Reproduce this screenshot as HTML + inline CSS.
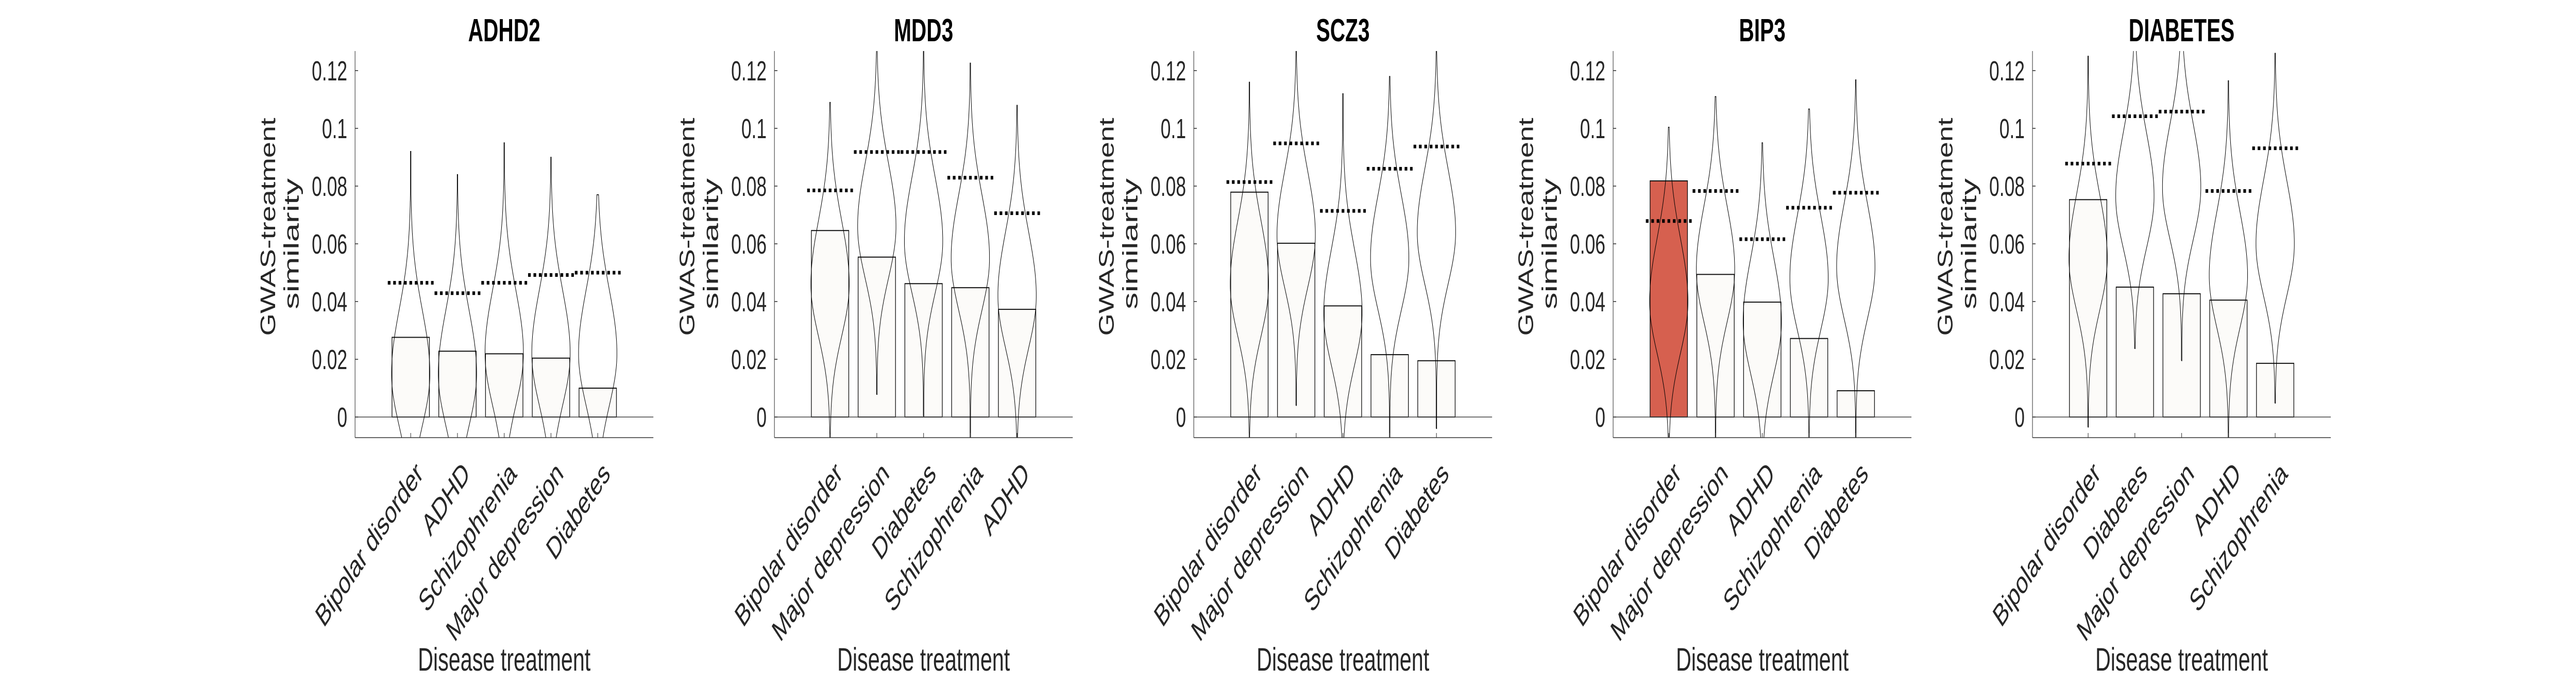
<!DOCTYPE html>
<html><head><meta charset="utf-8"><style>
html,body{margin:0;padding:0;background:#fff;width:100%;height:100%;overflow:hidden;}
svg{display:block;width:100vw;height:100vh;}
text{font-family:"Liberation Sans",Arial,sans-serif;fill:#262626;}
</style></head><body>
<svg id="chart" viewBox="0 0 7625 1325" preserveAspectRatio="none" xmlns="http://www.w3.org/2000/svg"></svg>
<script>
// ---- data ----
const panelTitles = ["ADHD2","MDD3","SCZ3","BIP3","DIABETES"];
const categoriesP1 = ["Bipolar disorder","ADHD","Schizophrenia","Major depression","Diabetes"];
const categoriesP2 = ["Bipolar disorder","Major depression","Diabetes","Schizophrenia","ADHD"];
const categoriesP3 = ["Bipolar disorder","Major depression","ADHD","Schizophrenia","Diabetes"];
const categoriesP4 = ["Bipolar disorder","Major depression","ADHD","Schizophrenia","Diabetes"];
const categoriesP5 = ["Bipolar disorder","Diabetes","Major depression","ADHD","Schizophrenia"];
const barValuesP1 = [0.0276,0.0228,0.0219,0.0204,0.0100];
const barValuesP2 = [0.0646,0.0554,0.0462,0.0448,0.0373];
const barValuesP3 = [0.0779,0.0602,0.0385,0.0216,0.0195];
const barValuesP4 = [0.0818,0.0494,0.0398,0.0272,0.0091];
const barValuesP5 = [0.0753,0.0450,0.0427,0.0405,0.0186];
const thresholdP1 = [0.0465,0.0429,0.0465,0.0492,0.0500];
const thresholdP2 = [0.0785,0.0918,0.0918,0.0829,0.0706];
const thresholdP3 = [0.0814,0.0948,0.0714,0.0860,0.0937];
const thresholdP4 = [0.0679,0.0783,0.0616,0.0725,0.0777];
const thresholdP5 = [0.0878,0.1042,0.1058,0.0783,0.0931];
const violinMaxP1 = [0.092,0.084,0.095,0.090,0.077];
const violinMaxP2 = [0.109,0.127,0.127,0.1226,0.108];
const violinMaxP3 = [0.116,0.127,0.112,0.118,0.127];
const violinMaxP4 = [0.1004,0.111,0.095,0.1067,0.1168];
const violinMaxP5 = [0.125,0.127,0.127,0.1165,0.126];
const violinMinP1 = [-0.02,-0.02,-0.02,-0.02,-0.02];
const violinMinP2 = [-0.02,0.0078,0.0003,-0.02,-0.02];
const violinMinP3 = [-0.02,0.004,-0.02,-0.02,-0.004];
const violinMinP4 = [-0.02,-0.02,-0.02,-0.02,-0.02];
const violinMinP5 = [-0.0035,0.0237,0.0195,-0.02,0.0048];
const violinModeP1 = [0.015,0.015,0.022,0.022,0.022];
const violinModeP2 = [0.046,0.066,0.061,0.055,0.042];
const violinModeP3 = [0.046,0.063,0.036,0.055,0.064];
const violinModeP4 = [0.040,0.051,0.033,0.048,0.052];
const violinModeP5 = [0.055,0.0765,0.0795,0.049,0.060];
const highlightP4 = [true,false,false,false,false];
const yTicks = [0,0.02,0.04,0.06,0.08,0.1,0.12];
const yTickLabels = ["0","0.02","0.04","0.06","0.08","0.1","0.12"];

const panels = [
 {title:panelTitles[0],cats:categoriesP1,bars:barValuesP1,thr:thresholdP1,vmax:violinMaxP1,vmin:violinMinP1,mode:violinModeP1,hl:null},
 {title:panelTitles[1],cats:categoriesP2,bars:barValuesP2,thr:thresholdP2,vmax:violinMaxP2,vmin:violinMinP2,mode:violinModeP2,hl:null},
 {title:panelTitles[2],cats:categoriesP3,bars:barValuesP3,thr:thresholdP3,vmax:violinMaxP3,vmin:violinMinP3,mode:violinModeP3,hl:null},
 {title:panelTitles[3],cats:categoriesP4,bars:barValuesP4,thr:thresholdP4,vmax:violinMaxP4,vmin:violinMinP4,mode:violinModeP4,hl:highlightP4},
 {title:panelTitles[4],cats:categoriesP5,bars:barValuesP5,thr:thresholdP5,vmax:violinMaxP5,vmin:violinMinP5,mode:violinModeP5,hl:null}
];

// ---- layout ----
const NS="http://www.w3.org/2000/svg";
const svg=document.getElementById('chart');
const AX_W=883, AX_TOP=99, AX_BOT=849, Y0=809, PX_PER=5600;
const XMIN=-0.19, XMAX=6.19;
const panelLeft=i=>1051+i*1241.3;
function mk(tag,attrs,parent){const e=document.createElementNS(NS,tag);for(const k in attrs)e.setAttribute(k,attrs[k]);(parent||svg).appendChild(e);return e;}

panels.forEach((p,pi)=>{
  const L=panelLeft(pi);
  const xs=v=>L+(v-XMIN)/(XMAX-XMIN)*AX_W;
  const ys=v=>Y0-v*PX_PER;
  const unit=AX_W/(XMAX-XMIN);
  const g=mk('g',{});
  
  
  const clipId='clip'+pi;
  const cp=mk('clipPath',{id:clipId},g);
  mk('rect',{x:L,y:AX_TOP,width:AX_W,height:AX_BOT-AX_TOP},cp);

  const t=mk('text',{x:L+AX_W/2,y:80,'text-anchor':'middle','font-size':62,'font-weight':'bold',style:'fill:#000'},g);
  t.textContent=p.title;
  
  

  p.bars.forEach((v,i)=>{
    const cx=xs(i+1);
    const r=mk('rect',{x:cx-0.4*unit,y:ys(v),width:0.8*unit,height:ys(0)-ys(v),fill:(p.hl&&p.hl[i])?'#d6604f':'#fcfbf9',stroke:'#111','stroke-width':2},g);
    
    
  });
  const zl=mk('line',{x1:L,x2:L+AX_W,y1:ys(0),y2:ys(0),stroke:'#444','stroke-width':1.6},g);
  
  

  const vg=mk('g',{'clip-path':'url(#'+clipId+')'},g);
  p.vmax.forEach((mx,i)=>{
    const cx=xs(i+1), mn=p.vmin[i], md=p.mode[i];
    const W=0.41*unit, sUp=0.022, sDn=0.018;
    const right=[], left=[];
    const N=160;
    for(let k=0;k<=N;k++){
      const y=mn+(mx-mn)*k/N;
      const d=y-md, s=d>0?sUp:sDn;
      let hw=W*Math.exp(-0.5*(d/s)*(d/s));
      hw=Math.max(hw,0.8);
      right.push([cx+hw,ys(y)]);left.push([cx-hw,ys(y)]);
    }
    let dstr='M'+left[0][0].toFixed(1)+','+left[0][1].toFixed(1);
    for(let k=0;k<=N;k++) dstr+=' L'+right[k][0].toFixed(1)+','+right[k][1].toFixed(1);
    for(let k=N;k>=0;k--) dstr+=' L'+left[k][0].toFixed(1)+','+left[k][1].toFixed(1);
    const path=mk('path',{d:dstr,fill:'none',stroke:'#000','stroke-width':1.5},vg);
    
    
  });

  p.thr.forEach((v,i)=>{
    const cx=xs(i+1);
    const ln=mk('line',{x1:cx-0.49*unit,x2:cx+0.49*unit,y1:ys(v),y2:ys(v),stroke:'#000','stroke-width':7,'stroke-dasharray':'8 8'},g);
    
    
  });

  const ya=mk('line',{x1:L,x2:L,y1:AX_TOP,y2:AX_BOT,stroke:'#333','stroke-width':1.6},g);
  
  
  const xa=mk('line',{x1:L,x2:L+AX_W,y1:AX_BOT,y2:AX_BOT,stroke:'#333','stroke-width':1.6},g);
  
  

  yTicks.forEach((v,k)=>{
    mk('line',{x1:L,x2:L+9,y1:ys(v),y2:ys(v),stroke:'#333','stroke-width':1.6},g);
    const tl=mk('text',{x:L-23,y:ys(v)+19,'text-anchor':'end','font-size':54},g);
    tl.textContent=yTickLabels[k];
    
    
  });
  p.cats.forEach((c,i)=>{
    const cx=xs(i+1);
    mk('line',{x1:cx,x2:cx,y1:AX_BOT,y2:AX_BOT-9,stroke:'#333','stroke-width':1.6},g);
    const ex=cx+40, ey=922;
    const tl=mk('text',{x:ex,y:ey,'text-anchor':'end','font-size':60,transform:'rotate(-45 '+ex+' '+ey+')'},g);
    tl.textContent=c;
    
    
  });

  const yl1x=L-237, yl2x=L-167;
  const yl1=mk('text',{x:yl1x,y:440,'text-anchor':'middle','font-size':62,textLength:423,lengthAdjust:'spacingAndGlyphs',transform:'rotate(-90 '+yl1x+' 440)'},g);
  yl1.textContent='GWAS-treatment';
  
  
  const yl2=mk('text',{x:yl2x,y:473,'text-anchor':'middle','font-size':62,textLength:254,lengthAdjust:'spacingAndGlyphs',transform:'rotate(-90 '+yl2x+' 473)'},g);
  yl2.textContent='similarity';
  
  
  const xl=mk('text',{x:L+AX_W/2,y:1301,'text-anchor':'middle','font-size':63},g);
  xl.textContent='Disease treatment';
  
  
});
</script>
</body></html>
